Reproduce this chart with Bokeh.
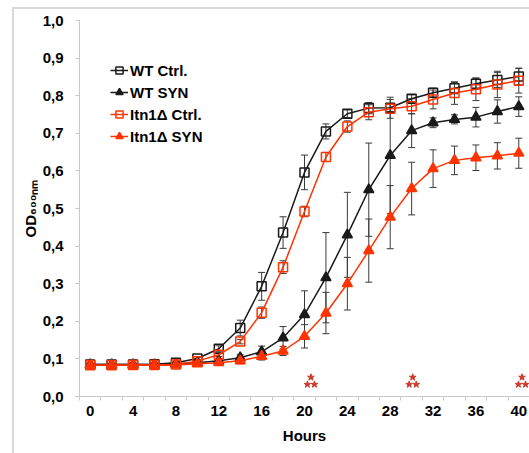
from bokeh.plotting import figure
from bokeh.models import (Range1d, FixedTicker, CustomJSTickFormatter, ColumnDataSource,
                          Whisker, TeeHead, Legend, LegendItem, InlineStyleSheet)
from bokeh.embed import file_html
from bokeh.resources import INLINE

# Growth curves, OD600 every 2 h
hours = [0, 2, 4, 6, 8, 10, 12, 14, 16, 18, 20, 22, 24, 26, 28, 30, 32, 34, 36, 38, 40]

wt_ctrl = [0.085, 0.085, 0.085, 0.086, 0.090, 0.101, 0.127, 0.182, 0.293, 0.436, 0.596,
           0.705, 0.752, 0.767, 0.768, 0.792, 0.808, 0.820, 0.832, 0.842, 0.851]
wt_ctrl_err = [0.003, 0.003, 0.003, 0.003, 0.004, 0.005, 0.008, 0.021, 0.037, 0.042, 0.046,
               0.020, 0.010, 0.015, 0.010, 0.010, 0.012, 0.015, 0.015, 0.020, 0.022]

wt_syn = [0.085, 0.085, 0.085, 0.085, 0.087, 0.090, 0.095, 0.103, 0.119, 0.156, 0.218,
          0.316, 0.430, 0.550, 0.641, 0.707, 0.728, 0.737, 0.743, 0.758, 0.771]
wt_syn_err = [0.003, 0.003, 0.003, 0.003, 0.003, 0.004, 0.005, 0.008, 0.015, 0.030, 0.063,
              0.120, 0.113, 0.124, 0.155, 0.045, 0.013, 0.012, 0.026, 0.031, 0.026]

ko_ctrl = [0.083, 0.083, 0.084, 0.084, 0.085, 0.094, 0.111, 0.146, 0.223, 0.344, 0.492,
           0.637, 0.718, 0.756, 0.765, 0.772, 0.790, 0.807, 0.817, 0.830, 0.840]
ko_ctrl_err = [0.003, 0.003, 0.003, 0.003, 0.003, 0.004, 0.005, 0.006, 0.015, 0.017, 0.014,
               0.012, 0.015, 0.020, 0.025, 0.020, 0.025, 0.030, 0.030, 0.035, 0.033]

ko_syn = [0.083, 0.083, 0.083, 0.083, 0.084, 0.087, 0.090, 0.095, 0.107, 0.121, 0.160,
          0.222, 0.300, 0.388, 0.477, 0.553, 0.606, 0.628, 0.635, 0.640, 0.647]
ko_syn_err = [0.003, 0.003, 0.003, 0.003, 0.003, 0.004, 0.005, 0.008, 0.010, 0.012, 0.031,
              0.055, 0.070, 0.084, 0.084, 0.070, 0.050, 0.038, 0.034, 0.035, 0.040]

series_names = ["WT Ctrl.", "WT SYN", "Itn1\u0394 Ctrl.", "Itn1\u0394 SYN"]

# significance marks (one star over two)
sig_hours = [20.6, 30.1, 40.3]
sig_top = 0.051
sig_bottom = 0.032

BLACK = "#1a1a1a"
RED = "#ff3300"
AXIS_GRAY = "#c8c8c8"
STAR_RED = "#cc3a2a"
FONT = "Liberation Sans"

p = figure(width=529, height=453, x_range=Range1d(-1, 41), y_range=Range1d(0, 1.0),
           output_backend="svg", toolbar_location=None,
           min_border_left=79, min_border_right=0, min_border_top=20, min_border_bottom=57)
p.outline_line_color = None
p.xgrid.visible = False
p.ygrid.visible = False
p.background_fill_color = "white"
p.border_fill_color = "white"

# light frame line along the top and left of the chart area
p.stylesheets = [InlineStyleSheet(css="""
:host { position: relative; }
:host::after {
  content: "";
  position: absolute;
  left: 12px;
  top: 7px;
  width: calc(100% - 14px);
  height: calc(100% - 9px);
  border-left: 2px solid #d9d9d9;
  border-top: 2px solid #d9d9d9;
  pointer-events: none;
}
""")]

# axes
xa = p.xaxis[0]
xa.ticker = FixedTicker(ticks=list(range(0, 41, 4)), minor_ticks=list(range(-1, 42, 2)))
xa.axis_line_color = AXIS_GRAY
xa.major_tick_line_color = None
xa.major_tick_out = 4
xa.major_tick_in = 0
xa.minor_tick_line_color = AXIS_GRAY
xa.minor_tick_out = 4
xa.minor_tick_in = 0
xa.major_label_text_font = FONT
xa.major_label_text_font_style = "bold"
xa.major_label_text_font_size = "15px"
xa.major_label_text_color = "black"
xa.major_label_standoff = 5
xa.axis_label = "Hours"
xa.axis_label_text_font = FONT
xa.axis_label_text_font_style = "bold"
xa.axis_label_text_font_size = "15px"
xa.axis_label_text_color = "black"
xa.axis_label_standoff = 8

ya = p.yaxis[0]
ya.ticker = FixedTicker(ticks=[0.0, 0.1, 0.2, 0.3, 0.4, 0.5, 0.6, 0.7, 0.8, 0.9, 1.0], minor_ticks=[])
ya.formatter = CustomJSTickFormatter(code="return tick.toFixed(1).replace('.', ',');")
ya.axis_line_color = AXIS_GRAY
ya.major_tick_line_color = AXIS_GRAY
ya.major_tick_out = 4
ya.major_tick_in = 0
ya.minor_tick_line_color = None
ya.major_label_text_font = FONT
ya.major_label_text_font_style = "bold"
ya.major_label_text_font_size = "15px"
ya.major_label_text_color = "black"
ya.major_label_standoff = 12
ya.axis_label = "OD\u2086\u2080\u2080\u2099\u2098"
ya.axis_label_text_font = FONT
ya.axis_label_text_font_style = "bold"
ya.axis_label_text_font_size = "15px"
ya.axis_label_text_color = "black"
ya.axis_label_standoff = 1

specs = [
    (wt_ctrl, wt_ctrl_err, BLACK, "square", False),
    (wt_syn, wt_syn_err, BLACK, "triangle", True),
    (ko_ctrl, ko_ctrl_err, RED, "square", False),
    (ko_syn, ko_syn_err, RED, "triangle", True),
]

items = []
for name, (vals, errs, color, marker, filled) in zip(series_names, specs):
    src = ColumnDataSource(dict(
        x=hours, y=vals,
        lo=[v - e for v, e in zip(vals, errs)],
        hi=[v + e for v, e in zip(vals, errs)],
    ))
    p.add_layout(Whisker(source=src, base="x", lower="lo", upper="hi",
                         line_color="#3a3a3a", line_width=1,
                         upper_head=TeeHead(size=7, line_color="#3a3a3a", line_width=1),
                         lower_head=TeeHead(size=7, line_color="#3a3a3a", line_width=1)))
    ln = p.line("x", "y", source=src, line_color=color, line_width=1.5)
    sc = p.scatter("x", "y", source=src, marker=marker, size=9 if marker == "square" else 10,
                   line_color=color, line_width=1.5,
                   fill_color=color if filled else None)
    items.append(LegendItem(label=name, renderers=[ln, sc]))

# significance stars
p.scatter(sig_hours, [sig_top] * len(sig_hours), marker="star", size=7,
          fill_color=STAR_RED, line_color=STAR_RED)
p.scatter([h - 0.33 for h in sig_hours], [sig_bottom] * len(sig_hours), marker="star", size=7,
          fill_color=STAR_RED, line_color=STAR_RED)
p.scatter([h + 0.33 for h in sig_hours], [sig_bottom] * len(sig_hours), marker="star", size=7,
          fill_color=STAR_RED, line_color=STAR_RED)

legend = Legend(items=items, location=(31, 250), padding=0, margin=0, spacing=2,
                glyph_width=18, glyph_height=20, label_height=20, label_standoff=2,
                label_text_font=FONT, label_text_font_style="bold",
                label_text_font_size="15px", label_text_color="black",
                border_line_color=None, background_fill_alpha=0)
p.add_layout(legend)

open("out.html", "w").write(file_html(p, INLINE))
